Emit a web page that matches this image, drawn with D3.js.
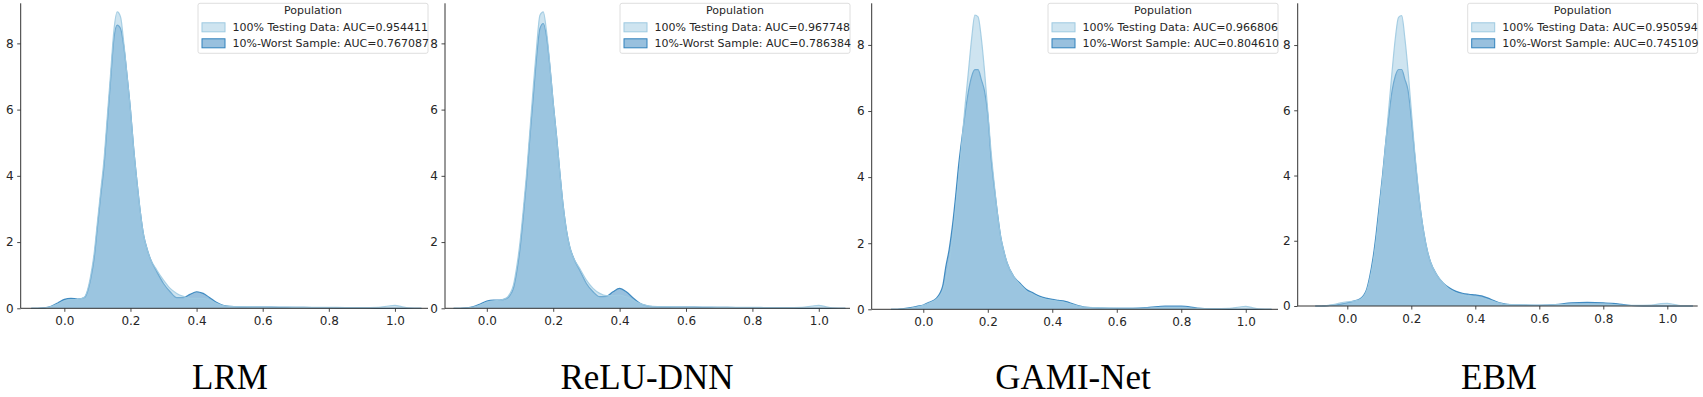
<!DOCTYPE html>
<html>
<head>
<meta charset="utf-8">
<script src="https://cdn.jsdelivr.net/npm/d3@7/dist/d3.min.js"></script>
<style>
  html, body { margin: 0; padding: 0; background: #fff; }
  svg { display: block; }
</style>
</head>
<body>
<svg id="chart" width="1703" height="397"></svg>
<script>
// ---------------- DATA ----------------
const models = ["LRM", "ReLU-DNN", "GAMI-Net", "EBM"];
const seriesNames = ["100% Testing Data", "10%-Worst Sample"];
const legendTitle = "Population";
const aucFull  = ["0.954411", "0.967748", "0.966806", "0.950594"];
const aucWorst = ["0.767087", "0.786384", "0.804610", "0.745109"];
const xTicks = [0.0, 0.2, 0.4, 0.6, 0.8, 1.0];
const yTicks = [0, 2, 4, 6, 8];

const xGrid = [-0.1,-0.08,-0.06,-0.04,-0.02,0,0.02,0.04,0.06,0.07,0.08,0.09,0.1,0.11,0.12,0.13,0.14,0.15,0.16,0.17,0.18,0.19,0.2,0.21,0.22,0.23,0.24,0.25,0.26,0.28,0.3,0.32,0.34,0.36,0.38,0.4,0.42,0.44,0.46,0.48,0.5,0.55,0.6,0.65,0.7,0.75,0.8,0.85,0.9,0.95,0.98,1.0,1.02,1.04,1.06,1.08];

const lrmWorst  = [0,0,0.01,0.06,0.16,0.27,0.30,0.28,0.32,0.5,0.9,1.5,2.45,3.4,4.3,5.6,6.9,8.15,8.55,8.45,7.9,7.0,6.0,4.8,3.8,2.9,2.2,1.8,1.5,1.1,0.75,0.5,0.32,0.32,0.42,0.5,0.45,0.32,0.18,0.09,0.06,0.04,0.04,0.03,0.03,0.02,0.02,0.01,0.01,0,0,0,0,0,0,0];
const lrmFull   = [0,0,0.01,0.05,0.13,0.22,0.26,0.27,0.33,0.55,1.0,1.65,2.6,3.55,4.5,5.8,7.1,8.4,8.95,8.8,8.0,7.0,6.0,4.8,3.8,2.9,2.2,1.8,1.5,1.15,0.85,0.6,0.45,0.36,0.3,0.3,0.3,0.25,0.15,0.08,0.06,0.05,0.04,0.04,0.03,0.03,0.03,0.02,0.02,0.03,0.07,0.09,0.05,0.01,0,0];

const reluWorst = [0,0,0.01,0.05,0.13,0.22,0.25,0.25,0.3,0.4,0.6,1.1,1.8,2.8,3.9,5.2,6.4,7.6,8.45,8.6,8.2,7.3,6.2,5.2,4.1,3.1,2.35,1.85,1.55,1.15,0.75,0.5,0.35,0.36,0.5,0.6,0.5,0.32,0.16,0.08,0.05,0.04,0.04,0.03,0.03,0.02,0.02,0.01,0.01,0,0,0,0,0,0,0];
const reluFull  = [0,0,0.01,0.04,0.1,0.18,0.22,0.25,0.32,0.45,0.7,1.25,2.0,3.0,4.1,5.4,6.7,7.9,8.85,8.95,8.35,7.35,6.2,5.2,4.1,3.1,2.35,1.85,1.55,1.2,0.85,0.6,0.45,0.38,0.38,0.4,0.35,0.25,0.15,0.09,0.06,0.05,0.04,0.04,0.03,0.03,0.03,0.02,0.02,0.03,0.07,0.09,0.05,0.01,0,0];

const gamiWorst = [0,0,0.02,0.05,0.09,0.13,0.22,0.33,0.7,1.3,1.8,2.5,3.4,4.4,5.2,5.95,6.6,7.05,7.25,7.25,6.95,6.6,5.9,4.6,3.7,2.9,2.2,1.75,1.4,1.0,0.79,0.6,0.5,0.4,0.34,0.3,0.27,0.24,0.18,0.11,0.07,0.04,0.03,0.03,0.06,0.1,0.1,0.04,0.01,0,0,0,0,0,0,0];
const gamiFull  = [0,0,0.01,0.03,0.07,0.12,0.2,0.3,0.55,0.9,1.4,2.1,3.0,4.0,5.1,6.2,7.2,8.2,8.9,8.85,8.2,7.2,6.0,4.8,3.8,2.9,2.2,1.75,1.4,1.0,0.75,0.55,0.45,0.36,0.3,0.27,0.24,0.2,0.15,0.1,0.07,0.05,0.04,0.04,0.04,0.05,0.05,0.03,0.02,0.03,0.07,0.09,0.05,0.01,0,0];

const ebmWorst  = [0,0,0.01,0.03,0.06,0.1,0.15,0.22,0.5,0.9,1.45,2.2,3.1,4.0,5.0,5.85,6.6,7.05,7.25,7.25,6.95,6.6,5.75,4.7,3.7,2.85,2.2,1.7,1.35,0.95,0.7,0.55,0.45,0.39,0.36,0.34,0.31,0.24,0.16,0.09,0.05,0.03,0.02,0.04,0.1,0.11,0.1,0.06,0.01,0,0,0,0,0,0,0];
const ebmFull   = [0,0,0.02,0.05,0.1,0.13,0.15,0.2,0.45,0.8,1.3,2.0,2.9,3.9,5.0,6.1,7.2,8.2,8.85,8.9,8.2,7.2,6.0,4.8,3.75,2.85,2.2,1.7,1.35,0.95,0.7,0.5,0.4,0.33,0.3,0.27,0.24,0.19,0.13,0.08,0.05,0.04,0.03,0.04,0.05,0.05,0.05,0.03,0.02,0.03,0.07,0.08,0.05,0.01,0,0];

const fullSeries  = [lrmFull, reluFull, gamiFull, ebmFull];
const worstSeries = [lrmWorst, reluWorst, gamiWorst, ebmWorst];

// ---------------- LAYOUT ----------------
const layout = [
  {left: 20.7,   right: 428,    top: 3.3, bottom: 308.3, x0: -0.132, x1: 1.10,  ymax: 9.21, tx: 230},
  {left: 445,    right: 850,    top: 3.3, bottom: 308.3, x0: -0.126, x1: 1.094, ymax: 9.21, tx: 647},
  {left: 871.7,  right: 1278,   top: 3.3, bottom: 309.3, x0: -0.16,  x1: 1.10,  ymax: 9.26, tx: 1073},
  {left: 1297.7, right: 1697.7, top: 3.3, bottom: 306,   x0: -0.155, x1: 1.095, ymax: 9.28, tx: 1499}
];

const lightC = "rgb(158,202,225)";
const darkC  = "rgb(49,130,189)";
const textC  = "#262626";
const tickFont = "DejaVu Sans, sans-serif";

const svg = d3.select("#chart");

layout.forEach((L, i) => {
  const x = d3.scaleLinear().domain([L.x0, L.x1]).range([L.left, L.right]);
  const y = d3.scaleLinear().domain([0, L.ymax]).range([L.bottom, L.top]);
  const g = svg.append("g");

  const area = d3.area()
    .x((d, k) => x(xGrid[k]))
    .y0(y(0))
    .y1(d => y(d))
    .curve(d3.curveMonotoneX);
  const line = d3.line()
    .x((d, k) => x(xGrid[k]))
    .y(d => y(d))
    .curve(d3.curveMonotoneX);

  // worst sample drawn first, full data on top
  g.append("path").datum(worstSeries[i]).attr("d", area)
    .attr("fill", darkC).attr("fill-opacity", 0.5);
  g.append("path").datum(worstSeries[i]).attr("d", line)
    .attr("fill", "none").attr("stroke", darkC).attr("stroke-width", 1.2).attr("stroke-opacity", 0.9);
  g.append("path").datum(fullSeries[i]).attr("d", area)
    .attr("fill", lightC).attr("fill-opacity", 0.5);
  g.append("path").datum(fullSeries[i]).attr("d", line)
    .attr("fill", "none").attr("stroke", lightC).attr("stroke-width", 1.2).attr("stroke-opacity", 0.9);

  // axes
  const xAxis = d3.axisBottom(x).tickValues(xTicks).tickFormat(d3.format(".1f")).tickSizeOuter(0).tickSize(3.5).tickPadding(4.5);
  const yAxis = d3.axisLeft(y).tickValues(yTicks).tickFormat(d3.format("d")).tickSizeOuter(0).tickSize(3.5).tickPadding(3.5);

  const gx = g.append("g").attr("transform", `translate(0,${L.bottom})`).call(xAxis);
  const gy = g.append("g").attr("transform", `translate(${L.left},0)`).call(yAxis);
  [gx, gy].forEach(ax => {
    ax.select(".domain").attr("stroke", "#333").attr("stroke-width", 1);
    ax.selectAll(".tick line").attr("stroke", "#333").attr("stroke-width", 0.9);
    ax.selectAll(".tick text").attr("fill", textC).style("font-family", tickFont).style("font-size", "12px");
  });
  gx.select(".domain").attr("d", `M${L.left},0H${L.right}`);
  gy.select(".domain").attr("d", `M0,${L.top}V${L.bottom}`);

  // legend
  const lw = 230, lh = 50;
  const lx = L.right - lw, ly = L.top;
  const lg = g.append("g").attr("transform", `translate(${lx},${ly})`);
  lg.append("rect").attr("x", 0).attr("y", 0).attr("width", lw).attr("height", lh)
    .attr("rx", 2).attr("fill", "#fff").attr("fill-opacity", 0.8)
    .attr("stroke", "#d6d6d6").attr("stroke-width", 0.8);
  lg.append("text").attr("x", lw / 2).attr("y", 7).attr("dy", "0.35em")
    .attr("text-anchor", "middle").attr("fill", textC)
    .style("font-family", tickFont).style("font-size", "11px").text(legendTitle);
  const entries = [
    {label: `${seriesNames[0]}: AUC=${aucFull[i]}`, c: lightC},
    {label: `${seriesNames[1]}: AUC=${aucWorst[i]}`, c: darkC}
  ];
  entries.forEach((e, k) => {
    const cy = 24 + k * 16;
    lg.append("rect").attr("x", 4).attr("y", cy - 4.5).attr("width", 23).attr("height", 9)
      .attr("fill", e.c).attr("fill-opacity", 0.5).attr("stroke", e.c).attr("stroke-width", 1);
    lg.append("text").attr("x", 34.5).attr("y", cy).attr("dy", "0.35em")
      .attr("fill", textC).style("font-family", tickFont).style("font-size", "11px").text(e.label);
  });

  // title below
  svg.append("text")
    .attr("x", L.tx).attr("y", 389)
    .attr("text-anchor", "middle")
    .attr("fill", "#000")
    .style("font-family", "Liberation Serif, Times New Roman, serif")
    .style("font-size", "35px")
    .text(models[i]);
});
</script>
</body>
</html>
